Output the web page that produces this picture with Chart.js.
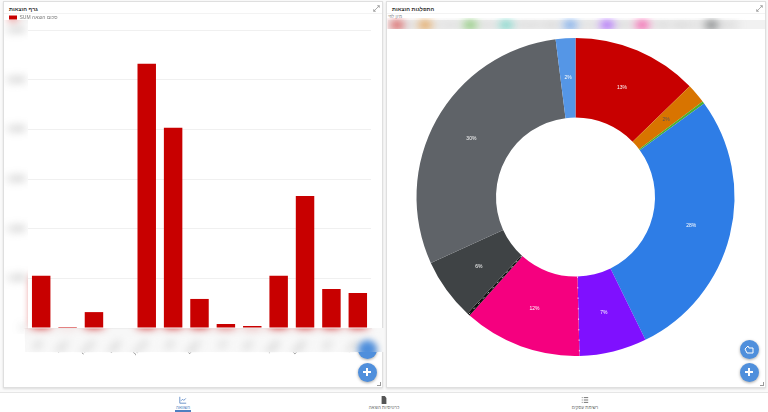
<!DOCTYPE html>
<html lang="he">
<head>
<meta charset="utf-8">
<title>הוצאות</title>
<script src="https://cdn.jsdelivr.net/npm/chart.js@4/dist/chart.umd.min.js"></script>
<style>
    html, body { margin: 0; padding: 0; background: #fafafa; width: 768px; height: 412px; overflow: hidden; font-family: "Liberation Sans", sans-serif; }
    .card { position: absolute; top: 1px; width: 378px; height: 385px; background: #fff; border: 1px solid #dfdfdf; box-shadow: 0 1px 2px rgba(0,0,0,.12); }
    #cardBar { left: 3px; }
    #cardPie { left: 386px; }
    .title { position: absolute; top: 4px; font-size: 5.5px; font-weight: bold; color: #333; white-space: nowrap; }
    #cardBar .title { left: 5px; }
    #cardPie .title { left: 5px; }
    .head-line { position: absolute; left: 0; right: 0; top: 11px; border-top: 1px solid #f3f3f3; }
    .expand { position: absolute; right: 2px; top: 3px; width: 7px; height: 7px; }
    .grip { position: absolute; right: 1px; bottom: 1px; width: 3px; height: 3px; border-right: 1px solid #999; border-bottom: 1px solid #999; }
    .sub { position: absolute; left: 388px; top: 14px; font-size: 4.5px; color: #888; white-space: nowrap; }
    .strip { position: absolute; background: #f1f1f1; }
    canvas { position: absolute; }
    .fab { position: absolute; width: 19px; height: 19px; border-radius: 50%; background: #4f8fdc; box-shadow: 0 1px 3px rgba(0,0,0,.35); z-index: 3; }
    .fab svg { position: absolute; left: 3.5px; top: 3.5px; width: 12px; height: 12px; }
    #fabCut { position: absolute; left: 340px; top: 328px; width: 44px; height: 24px; overflow: hidden; z-index: 3; }
    #nav { position: absolute; left: 0; right: 0; top: 392px; height: 20px; background: #fff; border-top: 1px solid #e6e6e6; box-sizing: border-box; }
    .tab { position: absolute; top: 2px; width: 80px; margin-left: -40px; text-align: center; color: #666; font-size: 4.5px; line-height: 5px; }
    .tab svg { display: block; margin: 1px auto 1px; width: 8px; height: 8px; }
    .tab.on { color: #4f7fc0; }
    #marker { position: absolute; left: 175px; width: 16px; top: 17px; height: 2px; background: #4f7fc0; }
</style>
</head>
<body>
<div class="card" id="cardBar">
    <div class="title">גרף הוצאות</div>
    <div class="head-line"></div>
    <svg class="expand" viewBox="0 0 10 10"><path d="M1 9L9 1M6 1h3v3M1 6v3h3" stroke="#888" fill="none"/></svg>
    <div class="grip"></div>
</div>
<div class="card" id="cardPie">
    <div class="title">התפלגות הוצאות</div>
    <div class="head-line"></div>
    <svg class="expand" viewBox="0 0 10 10"><path d="M1 9L9 1M6 1h3v3M1 6v3h3" stroke="#888" fill="none"/></svg>
    <div class="grip"></div>
</div>
<div class="sub">מיון לפי</div>

<div class="strip" style="left:25px;top:328px;width:359px;height:24px;background:#f8f8f8"></div>
<div class="strip" style="left:388px;top:20px;width:377px;height:9px"></div>

<canvas id="barChart" style="left:4px;top:10px;width:377px;height:374px" width="377" height="374"></canvas>
<canvas id="pieChart" style="left:387px;top:18px;width:377px;height:338px" width="377" height="338"></canvas>

<!-- the upper button on the bar card sinks into the soft strip -->
<div class="fab" style="left:357.5px;top:339.5px;clip-path:inset(12.5px -4px -4px -4px)"></div>
<div id="fabCut"><div class="fab" style="left:17.5px;top:11.5px;filter:blur(3px)"></div></div>
<div class="fab" style="left:357.5px;top:362.5px"><svg viewBox="0 0 12 12"><path d="M6 2v8M2 6h8" stroke="#fff" stroke-width="2"/></svg></div>
<div class="fab" style="left:739.5px;top:339.5px"><svg viewBox="0 0 12 12"><path d="M2 6l3-3 1 2h4v5H4z" stroke="#fff" fill="none" stroke-width="1"/></svg></div>
<div class="fab" style="left:739.5px;top:362.5px"><svg viewBox="0 0 12 12"><path d="M6 2v8M2 6h8" stroke="#fff" stroke-width="2"/></svg></div>

<div id="nav">
    <div class="tab on" style="left:183px"><svg viewBox="0 0 10 10"><path d="M1 1v8h8M2.500 6l2-2 1.500 1.500L8.500 3" stroke="#4f7fc0" fill="none"/></svg>השוואה</div>
    <div class="tab" style="left:384px"><svg viewBox="0 0 10 10"><path d="M2 0h4l2 2.500V10H2z" fill="#555"/></svg>כרטיסיות הוצאה</div>
    <div class="tab" style="left:585px"><svg viewBox="0 0 10 10"><path d="M1 2h1M1 5h1M1 8h1M3.500 2H9M3.500 5H9M3.500 8H9" stroke="#555"/></svg>רשימת עסקים</div>
    <div id="marker"></div>
</div>

<script>
const barCategories = ['מזון', 'ביטוח', 'ארנונה', 'מיסים', 'שכירות', 'שכר', 'פרסום', 'ציוד', 'דואר', 'חשמל', 'ספקים', 'דלק', 'שונות'];
const barValues = [1050, 20, 320, 0, 5320, 4030, 585, 80, 40, 1050, 2660, 785, 705];
const barTicks = [0, 1000, 2000, 3000, 4000, 5000, 6000];
const barLabel = 'SUM סכום הוצאה';

const pieCategories = ['מזון', 'ביטוח רכב', 'ארנונה', 'תקשורת ואינטרנט', 'שכירות', 'פרסום', 'ייעוץ מקצועי ומשרדי', 'עמלות', 'אחזקה', 'שונות', 'מיסים'];
const pieValues = [12.75, 2, 0.25, 0, 27.75, 6.85, 12, 0.3, 6.3, 29.8, 2];
const pieColors = ['#c80000', '#d87400', '#4caf2f', '#35c4b0', '#2e7de6', '#7f10ff', '#f5007f', '#111111', '#3f4345', '#5f6368', '#5596e6'];

Chart.defaults.font.family = '"Liberation Sans", sans-serif';
Chart.defaults.animation = false;

// redraws one rectangle of a finished chart out of focus
function softenArea(chart, x, y, w, h, amount) {
    const copy = document.createElement('canvas');
    copy.width = chart.width;
    copy.height = chart.height;
    copy.getContext('2d').drawImage(chart.canvas, 0, 0);
    const ctx = chart.ctx;
    ctx.save();
    ctx.beginPath();
    ctx.rect(x, y, w, h);
    ctx.clip();
    ctx.clearRect(x, y, w, h);
    ctx.filter = 'blur(' + amount + 'px)';
    ctx.drawImage(copy, 0, 0);
    ctx.restore();
}

const softBarAxes = {
    id: 'softBarAxes',
    afterDraw(chart) {
        const area = chart.chartArea;
        softenArea(chart, 0, area.top - 10, area.left, area.bottom - area.top + 16, 4);
        softenArea(chart, area.left - 4, area.bottom + 0.5, chart.width, 24, 4);
    }
};

new Chart(document.getElementById('barChart'), {
    type: 'bar',
    data: {
        labels: barCategories,
        datasets: [{
            label: barLabel,
            data: barValues,
            backgroundColor: '#c80000',
            barPercentage: 0.7,
            categoryPercentage: 1
        }]
    },
    options: {
        responsive: false,
        layout: { padding: { right: 10 } },
        plugins: {
            legend: {
                align: 'start',
                labels: { boxWidth: 8, boxHeight: 4, padding: 5, color: '#777', font: { size: 5 } }
            },
            tooltip: { enabled: false }
        },
        scales: {
            x: {
                grid: { display: false },
                border: { color: '#eee' },
                ticks: { color: '#777', font: { size: 6 }, maxRotation: 45, minRotation: 45 },
                afterFit: scale => { scale.height = 56; }
            },
            y: {
                min: 0,
                max: 6000,
                afterBuildTicks: scale => { scale.ticks = barTicks.map(v => ({ value: v })); },
                grid: { color: '#f0f0f0', drawTicks: false },
                border: { display: false },
                ticks: { color: '#555', font: { size: 7 } },
                afterFit: scale => { scale.width = 24; }
            }
        }
    },
    plugins: [softBarAxes]
});

// percent text in the middle of each slice, the speckled seams between some slices,
// then the legend row goes soft
const sliceText = {
    id: 'sliceText',
    afterDatasetsDraw(chart) {
        const ctx = chart.ctx;
        const arcs = chart.getDatasetMeta(0).data;
        const total = pieValues.reduce((a, b) => a + b, 0);
        ctx.save();
        arcs.forEach((arc, i) => {
            if (i === 5 || i === 7) {
                const a = i === 5 ? arc.endAngle : (arc.startAngle + arc.endAngle) / 2;
                ctx.beginPath();
                ctx.moveTo(arc.x + Math.cos(a) * arc.innerRadius, arc.y + Math.sin(a) * arc.innerRadius);
                ctx.lineTo(arc.x + Math.cos(a) * arc.outerRadius, arc.y + Math.sin(a) * arc.outerRadius);
                ctx.strokeStyle = 'rgba(255,255,255,.9)';
                ctx.lineWidth = 0.8;
                ctx.setLineDash(i === 5 ? [1.5, 9] : [2, 5]);
                ctx.stroke();
            }
        });
        ctx.setLineDash([]);
        ctx.font = '5px "Liberation Sans"';
        ctx.textAlign = 'center';
        ctx.textBaseline = 'middle';
        arcs.forEach((arc, i) => {
            const pct = pieValues[i] / total * 100;
            if (pct < 1) return;
            const c = arc.getCenterPoint();
            ctx.fillStyle = i === 1 ? '#555' : '#fff';
            ctx.fillText(Math.round(pct) + '%', c.x, c.y);
        });
        ctx.restore();
    },
    afterDraw(chart) {
        softenArea(chart, 0, 0, chart.width, 11, 5);
    }
};

new Chart(document.getElementById('pieChart'), {
    type: 'doughnut',
    data: {
        labels: pieCategories,
        datasets: [{
            data: pieValues,
            backgroundColor: pieColors,
            borderWidth: 0,
            radius: 159
        }]
    },
    options: {
        responsive: false,
        cutout: '50%',
        plugins: {
            legend: {
                align: 'start',
                labels: {
                    boxWidth: 12,
                    boxHeight: 6,
                    padding: 4,
                    color: '#777',
                    font: { size: 6 },
                    // thin seam slice and the last two entries stay off the one-line strip
                    filter: item => item.index !== 7 && item.index < 9
                }
            },
            tooltip: { enabled: false }
        }
    },
    plugins: [sliceText]
});
</script>
</body>
</html>
